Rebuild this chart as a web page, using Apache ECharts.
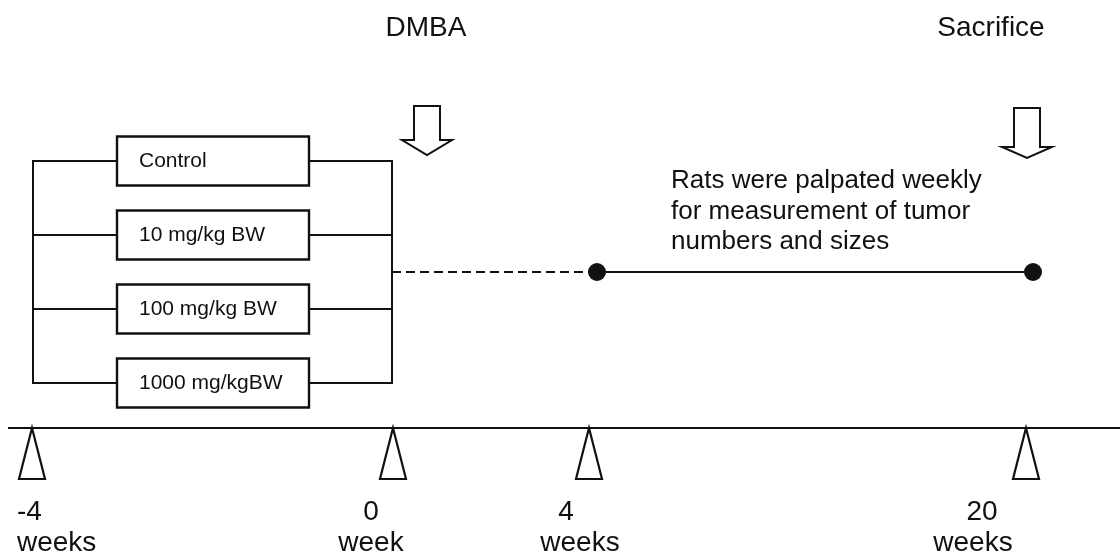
<!DOCTYPE html>
<html><head><meta charset="utf-8">
<script src="https://cdn.jsdelivr.net/npm/echarts@6/dist/echarts.min.js"></script>
<style>html,body{margin:0;padding:0;background:#fff}#c{width:1120px;height:557px}</style>
</head><body><div id="c"></div>
<script>
// ---- data ----
const groups = ['Control', '10 mg/kg BW', '100 mg/kg BW', '1000 mg/kgBW'];
const timepoints = ['-4', '0', '4', '20'];
const timeUnits = ['weeks', 'week', 'weeks', 'weeks'];
const events = ['DMBA', 'Sacrifice'];
const noteLines = ['Rats were palpated weekly', 'for measurement of tumor', 'numbers and sizes'];

// ---- layout (diagram units, kept apart from data) ----
const L = {
  timelineY: 428, timelineX0: 8, timelineX1: 1120,
  tickX: [32, 393, 589, 1026], triH: 51, triHalf: 13,
  numX: [17, 371, 566, 982], numAlign: ['left', 'center', 'center', 'center'], numY: 512,
  unitX: [17, 371, 580, 973], unitAlign: ['left', 'center', 'center', 'center'], unitY: 543,
  rowY: [161, 235, 309, 383], boxL: 117, boxR: 309, boxH: 49, boxTextX: 139,
  bracketL: 33, bracketR: 392,
  dashY: 272, dashX0: 392, midDotX: 597, endDotX: 1033,
  eventX: [426, 991], eventY: 28,
  arrowX: [427, 1027], arrowTop: [106, 108], arrowHead: [140, 147], arrowTip: [155, 158],
  shaftHalf: 13, headHalf: 25,
  noteX: 671, noteY: [181, 212, 242]
};
const FONT = '"Liberation Sans", Arial, sans-serif';
const INK = '#111';

const chart = echarts.init(document.getElementById('c'), null, {renderer: 'canvas'});

function line(api, p0, p1, w, dash) {
  const a = api.coord(p0), b = api.coord(p1);
  return {type: 'line', shape: {x1: a[0], y1: a[1], x2: b[0], y2: b[1]},
    style: {stroke: INK, lineWidth: w || 2, lineDash: dash || null}};
}
function poly(api, pts, w) {
  return {type: 'polygon', shape: {points: pts.map(p => api.coord(p))},
    style: {fill: '#fff', stroke: INK, lineWidth: w || 2.2, lineJoin: 'miter'}};
}
function text(api, str, p, size, align) {
  const a = api.coord(p);
  return {type: 'text', style: {text: str, x: a[0], y: a[1], font: size + 'px ' + FONT,
    fill: INK, align: align || 'left', verticalAlign: 'middle'}};
}

const option = {
  animation: false,
  backgroundColor: '#fff',
  grid: {left: 0, right: 0, top: 0, bottom: 0},
  xAxis: {type: 'value', min: 0, max: 1120, show: false},
  yAxis: {type: 'value', min: 0, max: 557, inverse: true, show: false},
  series: [
    // timeline
    {type: 'line', data: [[L.timelineX0, L.timelineY], [L.timelineX1, L.timelineY]],
      symbol: 'none', lineStyle: {color: INK, width: 2.2}, z: 2},
    // triangles + labels
    {type: 'custom', z: 3,
      data: timepoints.map((t, i) => [i]),
      renderItem: function (params, api) {
        const i = api.value(0), x = L.tickX[i], y = L.timelineY;
        return {type: 'group', children: [
          poly(api, [[x, y], [x + L.triHalf, y + L.triH], [x - L.triHalf, y + L.triH]], 2.2),
          text(api, timepoints[i], [L.numX[i], L.numY], 28, L.numAlign[i]),
          text(api, timeUnits[i], [L.unitX[i], L.unitY], 28, L.unitAlign[i])
        ]};
      }},
    // treatment groups bracket
    {type: 'custom', z: 3,
      data: groups.map((g, i) => [i]),
      renderItem: function (params, api) {
        const i = api.value(0), cy = L.rowY[i];
        const ch = [
          line(api, [L.bracketL, cy], [L.boxL, cy]),
          line(api, [L.boxR, cy], [L.bracketR, cy]),
          poly(api, [[L.boxL, cy - L.boxH / 2], [L.boxR, cy - L.boxH / 2], [L.boxR, cy + L.boxH / 2], [L.boxL, cy + L.boxH / 2]], 2.4),
          text(api, groups[i], [L.boxTextX, cy], 21, 'left')
        ];
        if (i === 0) {
          const last = L.rowY[L.rowY.length - 1];
          ch.push(line(api, [L.bracketL, cy - 1], [L.bracketL, last + 1]));
          ch.push(line(api, [L.bracketR, cy - 1], [L.bracketR, last + 1]));
        }
        return {type: 'group', children: ch};
      }},
    // dashed then solid follow-up line
    {type: 'line', data: [[L.dashX0, L.dashY], [L.midDotX, L.dashY]], symbol: 'none',
      lineStyle: {color: INK, width: 2.2, type: [9, 5]}, z: 2},
    {type: 'line', data: [[L.midDotX, L.dashY], [L.endDotX, L.dashY]], symbol: 'none',
      lineStyle: {color: INK, width: 2}, z: 2},
    {type: 'scatter', data: [[L.midDotX, L.dashY], [L.endDotX, L.dashY]], symbolSize: 18,
      itemStyle: {color: INK, opacity: 1}, z: 4},
    // events with hollow down arrows
    {type: 'custom', z: 3,
      data: events.map((e, i) => [i]),
      renderItem: function (params, api) {
        const i = api.value(0), x = L.arrowX[i];
        const t = L.arrowTop[i], h = L.arrowHead[i], tip = L.arrowTip[i];
        return {type: 'group', children: [
          text(api, events[i], [L.eventX[i], L.eventY], 28, 'center'),
          poly(api, [[x - L.shaftHalf, t], [x + L.shaftHalf, t], [x + L.shaftHalf, h], [x + L.headHalf, h],
            [x, tip], [x - L.headHalf, h], [x - L.shaftHalf, h]], 2)
        ]};
      }},
    // note text
    {type: 'custom', z: 3,
      data: noteLines.map((n, i) => [i]),
      renderItem: function (params, api) {
        const i = api.value(0);
        return text(api, noteLines[i], [L.noteX, L.noteY[i]], 26, 'left');
      }}
  ]
};
chart.setOption(option);
</script>
</body></html>
